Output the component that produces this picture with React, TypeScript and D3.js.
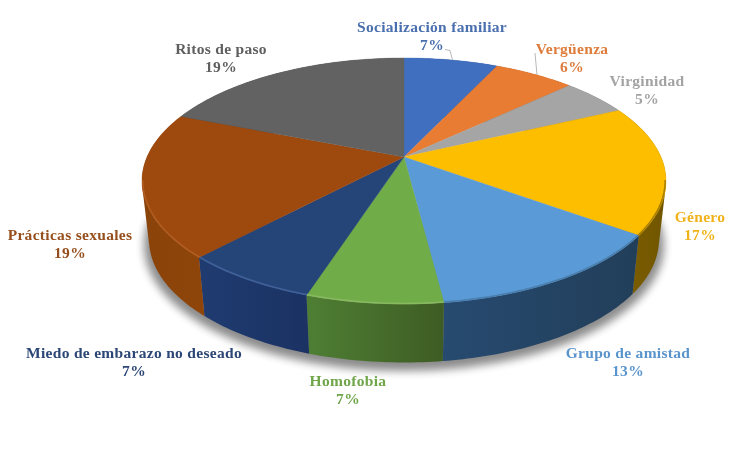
import React from "react";
import * as d3 from "d3";

const categories = ["Socialización familiar","Vergüenza","Virginidad","Género","Grupo de amistad","Homofobia","Miedo de embarazo no deseado","Prácticas sexuales","Ritos de paso"];
const values = [7,6,5,17,13,7,7,19,19];
const topColors = ["#416fbf","#e97c33","#a5a5a5","#fdbe00","#5a9ad6","#70ac48","#254579","#9e490e","#626262"];
const wallRight = ["#2a4a82","#a0531c","#6e6e6e","#735700","#223f5a","#3e5c24","#1b3263","#8f450a","#424242"];
const wallLeft = ["#2a4a82","#a0531c","#6e6e6e","#7f5f00","#274a70","#4e7e34","#1f3b70","#8a4309","#424242"];
const rimColors = ["none","none","none","#a98006","#4a7fae","#88b85f","#3f6099","#b05c20","none"];
const textColors = ["#4a6fae","#dd7b3a","#a3a3a3","#f0b31a","#5a94cc","#6fa549","#2c4676","#96501f","#5e5e5e"];
const labelX = [432,572,647,700,628,348,134,70,221];
const labelY = [32,54,86,222,358,386,358,240,54];

const W = 734, H = 460;
const TOP = { cx: 404, cy: 181, rx: 262, ry: 123 };
const BOT = { cx: 404, cy: 239.5, rx: 255, ry: 123 };
const SHADOW = { cx: 404, cy: 245, rx: 260, ry: 126 };
const K = -0.195;

// perspective projection of a point of the unit disc on an ellipse
const project = (e: typeof TOP, a: number, r = 1): [number, number] => {
  const X = r * Math.sin(a), Y = -r * Math.cos(a);
  const d = 1 + K * Y;
  return [e.cx + (e.rx * X * Math.sqrt(1 - K * K)) / d, e.cy + (e.ry * (Y + K)) / d];
};

const arcs = d3.pie<number>().sort(null).startAngle(0).endAngle(2 * Math.PI)(values);
const line = d3.line();
const samples = (a0: number, a1: number, n = Math.max(4, Math.ceil((a1 - a0) * 40))) =>
  d3.range(n + 1).map((i) => a0 + ((a1 - a0) * i) / n);

// all quads wound the same way, so that their union fills without holes
const wound = (q: [number, number][]) => (d3.polygonArea(q) < 0 ? q.slice().reverse() : q);

export default function App() {
  const font = "'Liberation Serif', serif";
  return (
    <svg width={W} height={H} viewBox={`0 0 ${W} ${H}`} style={{ position: "absolute", left: 0, top: 0, background: "#fff" }}>
      <defs>
        <filter id="sh" filterUnits="userSpaceOnUse" x={0} y={0} width={W} height={H}><feGaussianBlur stdDeviation="4" /></filter>
        <filter id="rim" filterUnits="userSpaceOnUse" x={0} y={0} width={W} height={H}><feGaussianBlur stdDeviation="0.7" /></filter>
        <filter id="soft" filterUnits="userSpaceOnUse" x={0} y={0} width={W} height={H}><feGaussianBlur stdDeviation="0.3" /></filter>
        {arcs.map((s, i) => {
          const xs = samples(s.startAngle, s.endAngle).map((a) => project(BOT, a)[0]);
          return (
            <linearGradient key={i} id={`w${i}`} gradientUnits="userSpaceOnUse" x1={d3.min(xs)} x2={d3.max(xs)} y1={0} y2={0}>
              <stop offset="0" stopColor={wallLeft[i]} />
              <stop offset="1" stopColor={wallRight[i]} />
            </linearGradient>
          );
        })}
      </defs>
      {/* drop shadow */}
      <path
        d={line(samples(Math.PI * 0.5, Math.PI * 1.5, 80).map((a) => project(SHADOW, a)))! + "Z"}
        fill="#000" opacity={0.45} filter="url(#sh)"
      />
      {/* side walls */}
      {arcs.map((s, i) => {
        const as = samples(s.startAngle, s.endAngle, Math.ceil((s.endAngle - s.startAngle) * 60));
        const d = as.slice(0, -1).map((a, j) =>
          line(wound([project(TOP, a), project(TOP, as[j + 1]), project(BOT, as[j + 1]), project(BOT, a)]))! + "Z"
        ).join("");
        return <path key={i} d={d} fill={`url(#w${i})`} />;
      })}
      {/* top faces */}
      {arcs.map((s, i) => {
        const pts = [project(TOP, 0, 0), ...samples(s.startAngle, s.endAngle).map((a) => project(TOP, a))];
        return <path key={i} d={line(pts)! + "Z"} fill={topColors[i]} stroke={topColors[i]} strokeWidth={0.4} />;
      })}
      {/* bevel on the front part of the rim */}
      {arcs.map((s, i) =>
        rimColors[i] === "none" ? null : (
          <path key={i} d={line(samples(Math.max(s.startAngle, Math.PI * 0.56), Math.min(s.endAngle, Math.PI * 1.44)).map((a) => project(TOP, a, 0.997)))!}
            fill="none" stroke={rimColors[i]} strokeWidth={1.6} filter="url(#rim)" />
        )
      )}
      {/* leaders */}
      <path d="M445,49.5 L450,50.5 L452.5,60" fill="none" stroke="#a6a6a6" strokeWidth={0.8} />
      <path d="M535,53 L537,75" fill="none" stroke="#a6a6a6" strokeWidth={0.8} />
      {/* labels */}
      <g fontFamily={font} fontWeight="bold" fontSize={15.5} textAnchor="middle" filter="url(#soft)" style={{ letterSpacing: "0.3px" }}>
        {categories.map((c, i) => (
          <g key={c} fill={textColors[i]}>
            <text x={labelX[i]} y={labelY[i]}>{c}</text>
            <text x={labelX[i]} y={labelY[i] + 18}>{values[i]}%</text>
          </g>
        ))}
      </g>
    </svg>
  );
}
